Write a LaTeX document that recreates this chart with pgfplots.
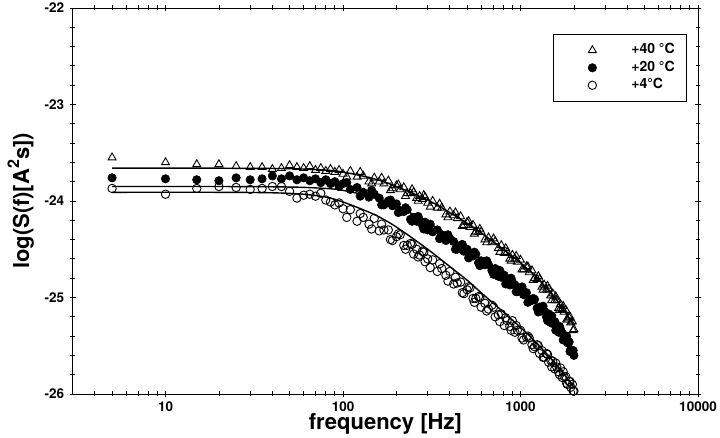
\documentclass[border=0pt]{standalone}
\usepackage{fontspec}
\setmainfont{TeX Gyre Heros}
\usepackage{pgfplots}
\pgfplotsset{compat=1.18}

% measured spectra, log10 of S(f)
\pgfplotstableread{
f     v
5     -23.55
10    -23.60
15    -23.62
20    -23.62
25    -23.64
30    -23.65
35    -23.65
40    -23.67
45    -23.66
50    -23.63
55    -23.65
60    -23.66
65    -23.64
70    -23.68
75    -23.66
80    -23.69
85    -23.67
90    -23.70
95    -23.68
100   -23.72
110   -23.69
120   -23.75
130   -23.74
140   -23.80
150   -23.76
160   -23.80
170   -23.82
180   -23.79
190   -23.87
200   -23.84
210   -23.88
220   -23.86
230   -23.92
240   -23.92
250   -23.91
260   -23.97
270   -23.95
280   -23.98
290   -23.96
300   -24.02
320   -24.00
340   -24.07
360   -24.07
380   -24.14
400   -24.11
420   -24.15
440   -24.18
460   -24.16
480   -24.25
500   -24.22
520   -24.27
540   -24.25
560   -24.32
580   -24.32
600   -24.32
630   -24.40
660   -24.38
690   -24.43
720   -24.42
750   -24.49
780   -24.46
810   -24.54
840   -24.53
870   -24.60
900   -24.56
930   -24.60
960   -24.63
1000  -24.61
1040  -24.71
1080  -24.68
1120  -24.74
1160  -24.72
1200  -24.80
1240  -24.81
1280  -24.81
1320  -24.89
1360  -24.87
1400  -24.92
1440  -24.91
1480  -24.98
1520  -24.96
1560  -25.03
1600  -25.03
1640  -25.11
1680  -25.07
1720  -25.12
1760  -25.15
1800  -25.13
1840  -25.23
1880  -25.21
1920  -25.26
1960  -25.25
2000  -25.33
105   -23.75
125   -23.70
145   -23.82
165   -23.76
185   -23.89
205   -23.83
225   -23.95
245   -23.88
265   -24.00
285   -23.94
310   -24.06
350   -24.03
390   -24.17
430   -24.12
470   -24.26
510   -24.21
550   -24.34
590   -24.29
645   -24.43
705   -24.39
765   -24.53
825   -24.49
885   -24.62
945   -24.57
1020  -24.71
1100  -24.68
1180  -24.82
1260  -24.78
1340  -24.92
1420  -24.88
1500  -25.03
1580  -24.99
1660  -25.13
1740  -25.09
1820  -25.23
1900  -25.20
1980  -25.34
}\tforty

\pgfplotstableread{
f     v
5     -23.76
10    -23.77
15    -23.78
20    -23.79
25    -23.76
30    -23.78
35    -23.77
40    -23.74
45    -23.77
50    -23.74
55    -23.78
60    -23.76
65    -23.79
70    -23.77
75    -23.81
80    -23.78
85    -23.82
90    -23.80
95    -23.85
100   -23.82
110   -23.88
120   -23.86
130   -23.91
140   -23.96
150   -23.93
160   -23.97
170   -24.04
180   -24.00
190   -24.05
200   -24.03
210   -24.10
220   -24.11
230   -24.09
240   -24.19
250   -24.17
260   -24.21
270   -24.20
280   -24.25
290   -24.22
300   -24.30
320   -24.32
340   -24.30
360   -24.35
380   -24.41
400   -24.39
420   -24.42
440   -24.50
460   -24.46
480   -24.52
500   -24.50
520   -24.57
540   -24.57
560   -24.55
580   -24.64
600   -24.62
630   -24.66
660   -24.66
690   -24.72
720   -24.70
750   -24.78
780   -24.79
810   -24.77
840   -24.82
870   -24.87
900   -24.84
930   -24.87
960   -24.94
1000  -24.91
1040  -24.97
1080  -24.95
1120  -25.03
1160  -25.03
1200  -25.02
1240  -25.11
1280  -25.10
1320  -25.14
1360  -25.14
1400  -25.20
1440  -25.17
1480  -25.26
1520  -25.27
1560  -25.25
1600  -25.30
1640  -25.36
1680  -25.33
1720  -25.37
1760  -25.44
1800  -25.41
1840  -25.47
1880  -25.46
1920  -25.54
1960  -25.55
2000  -25.60
105   -23.81
125   -23.95
145   -23.89
165   -24.04
185   -23.99
205   -24.12
225   -24.07
245   -24.21
265   -24.16
285   -24.29
310   -24.24
350   -24.39
390   -24.35
430   -24.50
470   -24.45
510   -24.59
550   -24.53
590   -24.67
645   -24.62
705   -24.76
765   -24.72
825   -24.86
885   -24.80
945   -24.94
1020  -24.89
1100  -25.05
1180  -25.01
1260  -25.15
1340  -25.09
1420  -25.24
1500  -25.19
1580  -25.34
1660  -25.30
1740  -25.44
1820  -25.40
1900  -25.56
1980  -25.55
}\ttwenty

\pgfplotstableread{
f     v
5     -23.87
10    -23.93
15    -23.87
20    -23.85
25    -23.86
30    -23.88
35    -23.87
40    -23.85
45    -23.85
50    -23.90
55    -23.97
60    -23.94
65    -23.93
70    -23.95
75    -23.92
80    -23.99
85    -24.01
90    -24.04
95    -24.02
100   -24.08
110   -24.09
120   -24.21
130   -24.17
140   -24.24
150   -24.18
160   -24.31
170   -24.30
180   -24.30
190   -24.41
200   -24.37
210   -24.35
220   -24.46
230   -24.46
240   -24.44
250   -24.55
260   -24.50
270   -24.56
280   -24.52
290   -24.63
300   -24.60
320   -24.61
340   -24.73
360   -24.70
380   -24.77
400   -24.73
420   -24.86
440   -24.85
460   -24.84
480   -24.96
500   -24.92
520   -24.90
540   -25.01
560   -25.01
580   -24.99
600   -25.10
630   -25.06
660   -25.12
690   -25.08
720   -25.20
750   -25.18
780   -25.17
810   -25.29
840   -25.24
870   -25.30
900   -25.24
930   -25.36
960   -25.34
1000  -25.34
1040  -25.44
1080  -25.41
1120  -25.42
1160  -25.49
1200  -25.51
1240  -25.49
1280  -25.58
1320  -25.55
1360  -25.62
1400  -25.58
1440  -25.67
1480  -25.65
1520  -25.66
1560  -25.74
1600  -25.72
1640  -25.77
1680  -25.73
1720  -25.83
1760  -25.82
1800  -25.82
1840  -25.90
1880  -25.87
1920  -25.93
1960  -25.90
2000  -25.97
105   -24.17
125   -24.13
145   -24.29
165   -24.24
185   -24.40
205   -24.34
225   -24.50
245   -24.45
265   -24.58
285   -24.53
310   -24.69
350   -24.65
390   -24.83
430   -24.79
470   -24.95
510   -24.89
550   -25.05
590   -25.00
645   -25.14
705   -25.10
765   -25.25
825   -25.21
885   -25.34
945   -25.29
1020  -25.42
1100  -25.40
1180  -25.53
1260  -25.50
1340  -25.62
1420  -25.59
1500  -25.72
1580  -25.68
1660  -25.80
1740  -25.77
1820  -25.89
1900  -25.87
1980  -25.97
}\tfour

\begin{document}
\begin{tikzpicture}
\useasboundingbox (-72.7pt,-44pt) rectangle (647.3pt,394pt);
\begin{axis}[
  at={(0pt,0pt)}, anchor=south west,
  width=625.3pt, height=386pt, scale only axis,
  xmode=log, xmin=3, xmax=10000,
  ymin=-26, ymax=-22,
  clip=false,
  xtick={10,100,1000,10000},
  xticklabels={10,100,1000,10000},
  minor xtick={4,5,6,7,8,9,20,30,40,50,60,70,80,90,200,300,400,500,600,700,800,900,2000,3000,4000,5000,6000,7000,8000,9000},
  ytick={-26,-25,-24,-23,-22},
  yticklabels={-26,-25,-24,-23,-22},
  minor y tick num=4,
  tick align=center,
  major tick length=6pt, minor tick length=5pt,
  every tick/.style={black, line width=0.8pt},
  axis line style={line width=0.9pt},
  ticklabel style={font=\bfseries\fontsize{13.5}{14}\selectfont},
  xticklabel style={yshift=-1pt},
  yticklabel style={xshift=-2pt},
  xlabel={frequency [Hz]},
  ylabel={log(S(f)[A\raisebox{0.45em}{\fontsize{16}{16}\selectfont 2}s])},
  every axis x label/.style={at={(axis description cs:0.5,0)}, anchor=base, yshift=-36pt,
    font=\bfseries\fontsize{22}{24}\selectfont},
  every axis y label/.style={at={(axis description cs:-0.0832,0.5)}, anchor=center, rotate=90,
    font=\bfseries\fontsize{22}{24}\selectfont},
  legend style={at={(1,1)}, anchor=north east, xshift=-11pt, yshift=-26pt,
    draw=black, line width=0.6pt, inner xsep=12pt, inner ysep=9.5pt,
    row sep=4.5pt,
    nodes={inner sep=0pt, text height=10pt, text depth=3pt,
      font=\bfseries\fontsize{14}{15}\selectfont},
    /tikz/every odd column/.append style={column sep=12pt},
    /tikz/every even column/.append style={column sep=0pt}},
  legend cell align=left,
  legend image code/.code={\path[draw=none] (-27pt,-4pt) rectangle (27pt,4pt);
    \path[#1] plot coordinates {(0pt,0pt)};},
]
% fitted curves
\addplot[black, line width=1.4pt, smooth, forget plot] coordinates {
  (5,-23.66) (20,-23.66) (50,-23.665) (80,-23.68) (100,-23.70) (150,-23.77)
  (200,-23.85) (300,-23.99) (400,-24.12) (500,-24.23) (600,-24.33) (800,-24.50)
  (1000,-24.64) (1200,-24.77) (1400,-24.90) (1600,-25.03) (1800,-25.16) (2000,-25.29)};
\addplot[black, line width=1.4pt, smooth, forget plot] coordinates {
  (5,-23.85) (20,-23.85) (50,-23.855) (80,-23.87) (100,-23.89) (150,-23.96)
  (200,-24.05) (300,-24.22) (400,-24.37) (500,-24.50) (600,-24.60) (800,-24.77)
  (1000,-24.92) (1200,-25.05) (1400,-25.18) (1600,-25.30) (1800,-25.42) (2000,-25.55)};
\addplot[black, line width=1.4pt, smooth, forget plot] coordinates {
  (5,-23.91) (20,-23.91) (40,-23.915) (60,-23.93) (80,-23.96) (100,-24.01) (150,-24.14)
  (200,-24.27) (300,-24.50) (400,-24.68) (500,-24.82) (600,-24.95) (800,-25.15)
  (1000,-25.31) (1200,-25.45) (1400,-25.58) (1600,-25.70) (1800,-25.82) (2000,-25.93)};

\addplot[only marks, mark=triangle, mark size=4.6pt, mark options={black, line width=0.9pt}]
  table[x=f, y=v] {\tforty};
\addlegendentry{+40 °C}
\addplot[only marks, mark=*, mark size=4.2pt, mark options={black, fill=black, line width=0.6pt}]
  table[x=f, y=v] {\ttwenty};
\addlegendentry{+20 °C}
\addplot[only marks, mark=o, mark size=4.2pt, mark options={black, line width=0.9pt}]
  table[x=f, y=v] {\tfour};
\addlegendentry{+4°C}
\end{axis}
\end{tikzpicture}
\end{document}
